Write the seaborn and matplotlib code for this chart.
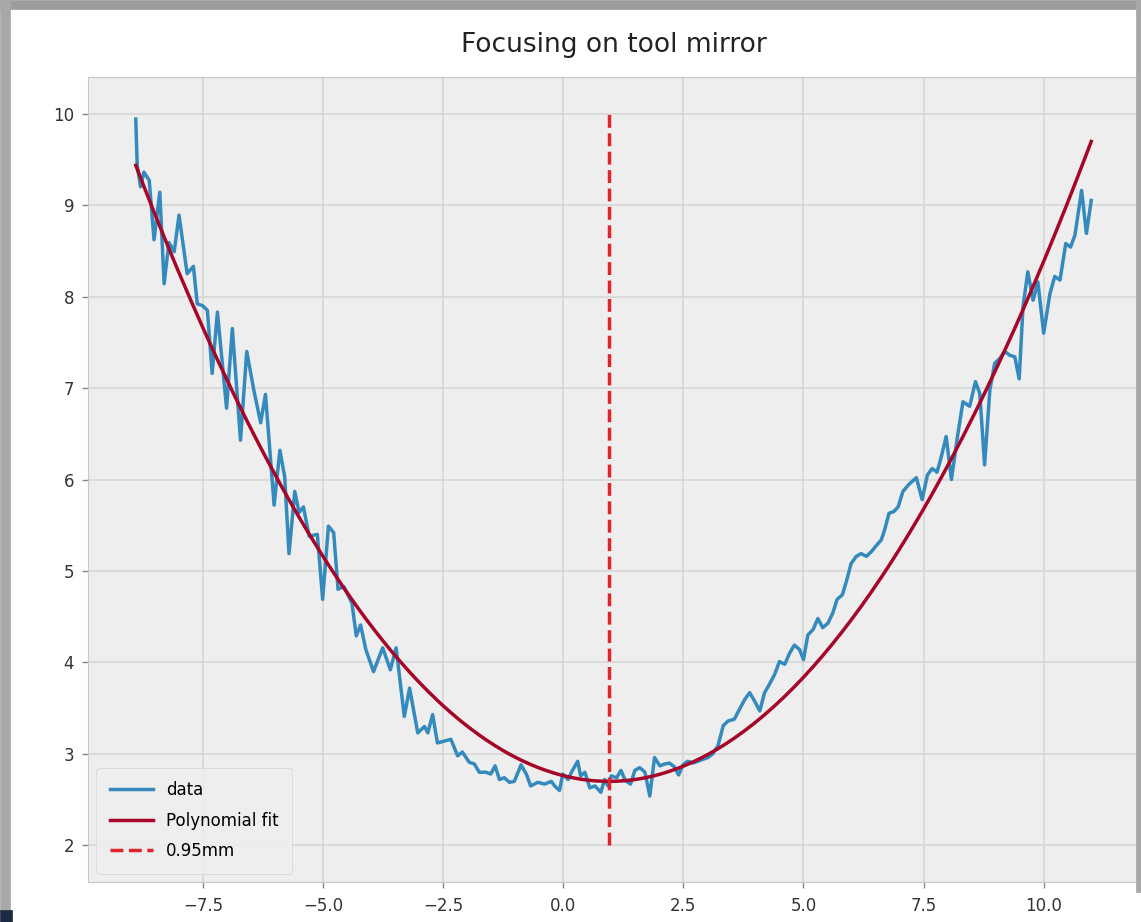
import numpy as np
import matplotlib
matplotlib.use("Agg")
import matplotlib.pyplot as plt
import seaborn as sns
from matplotlib.patches import Rectangle

data_x = [-8.90, -8.87, -8.80, -8.73, -8.62, -8.52, -8.40, -8.31, -8.21, -8.10,
          -8.00, -7.83, -7.70, -7.62, -7.51, -7.41, -7.31, -7.20, -7.01, -6.89,
          -6.72, -6.59, -6.44, -6.30, -6.20, -6.02, -5.90, -5.80, -5.71, -5.59,
          -5.50, -5.41, -5.29, -5.12, -5.01, -4.89, -4.78, -4.69, -4.57, -4.40,
          -4.31, -4.22, -4.11, -3.95, -3.76, -3.60, -3.48, -3.31, -3.20, -3.03,
          -2.89, -2.82, -2.72, -2.62, -2.48, -2.34, -2.20, -2.10, -1.96, -1.85,
          -1.75, -1.61, -1.51, -1.42, -1.33, -1.23, -1.12, -1.02, -0.88, -0.77,
          -0.68, -0.53, -0.39, -0.25, -0.18, -0.08, -0.01, 0.10, 0.17, 0.30,
          0.36, 0.45, 0.55, 0.66, 0.78, 0.86, 0.93, 1.00, 1.11, 1.20,
          1.29, 1.40, 1.49, 1.59, 1.70, 1.80, 1.90, 2.01, 2.11, 2.21,
          2.31, 2.40, 2.49, 2.59, 2.70, 2.80, 2.90, 3.01, 3.11, 3.22,
          3.33, 3.43, 3.56, 3.68, 3.77, 3.88, 3.98, 4.09, 4.19, 4.29,
          4.40, 4.50, 4.61, 4.71, 4.81, 4.92, 5.00, 5.09, 5.20, 5.30,
          5.40, 5.51, 5.61, 5.70, 5.81, 5.89, 5.99, 6.10, 6.20, 6.31,
          6.41, 6.52, 6.62, 6.69, 6.78, 6.88, 6.97, 7.07, 7.20, 7.35,
          7.47, 7.58, 7.68, 7.78, 7.87, 7.97, 8.08, 8.20, 8.32, 8.46,
          8.58, 8.67, 8.77, 8.88, 8.98, 9.08, 9.19, 9.29, 9.40, 9.49,
          9.57, 9.67, 9.78, 9.88, 10.00, 10.13, 10.23, 10.34, 10.46, 10.56,
          10.65, 10.79, 10.89, 10.99]
data_y = [9.94, 9.43, 9.20, 9.36, 9.27, 8.62, 9.14, 8.14, 8.59, 8.49,
          8.89, 8.25, 8.33, 7.92, 7.90, 7.85, 7.16, 7.83, 6.78, 7.65,
          6.43, 7.40, 6.97, 6.62, 6.93, 5.72, 6.32, 6.03, 5.19, 5.87,
          5.64, 5.70, 5.38, 5.40, 4.69, 5.49, 5.42, 4.80, 4.83, 4.65,
          4.29, 4.41, 4.14, 3.90, 4.16, 3.92, 4.16, 3.41, 3.72, 3.23,
          3.30, 3.23, 3.43, 3.12, 3.14, 3.16, 2.98, 3.02, 2.91, 2.89,
          2.80, 2.80, 2.78, 2.87, 2.72, 2.74, 2.69, 2.70, 2.88, 2.78,
          2.65, 2.69, 2.67, 2.70, 2.65, 2.60, 2.78, 2.72, 2.80, 2.92,
          2.76, 2.80, 2.63, 2.65, 2.58, 2.72, 2.65, 2.76, 2.74, 2.82,
          2.71, 2.67, 2.82, 2.85, 2.80, 2.54, 2.96, 2.87, 2.89, 2.90,
          2.86, 2.77, 2.88, 2.92, 2.90, 2.92, 2.94, 2.96, 3.00, 3.09,
          3.31, 3.36, 3.38, 3.50, 3.59, 3.67, 3.58, 3.47, 3.67, 3.76,
          3.87, 4.01, 3.98, 4.10, 4.19, 4.14, 4.03, 4.30, 4.36, 4.48,
          4.38, 4.43, 4.54, 4.69, 4.74, 4.88, 5.08, 5.16, 5.19, 5.16,
          5.21, 5.28, 5.34, 5.45, 5.63, 5.65, 5.70, 5.87, 5.95, 6.02,
          5.78, 6.05, 6.12, 6.08, 6.25, 6.47, 6.00, 6.45, 6.85, 6.80,
          7.07, 6.94, 6.16, 6.98, 7.27, 7.32, 7.40, 7.36, 7.34, 7.10,
          7.89, 8.27, 7.96, 8.16, 7.60, 8.03, 8.22, 8.18, 8.58, 8.54,
          8.67, 9.16, 8.69, 9.05]

# quadratic fit coefficients (vertex at 0.95 mm)
fit_coeffs = [0.0694, -0.1319, 2.7627]
focus_mm = 0.95
focus_span = (2, 10)

plt.style.use("bmh")
fig = plt.figure(figsize=(11.41, 9.22), dpi=100, facecolor="white")
ax = fig.add_axes([88 / 1141, 1 - 882 / 922, (1139 - 88) / 1141, (882 - 77) / 922])

sns.lineplot(x=data_x, y=data_y, ax=ax, color="#348ABD", lw=2.5, label="data")
fit_y = np.polyval(fit_coeffs, data_x)
sns.lineplot(x=data_x, y=fit_y, ax=ax, color="#A60628", lw=2.5, label="Polynomial fit")
ax.vlines(focus_mm, *focus_span, colors="#E0242B", linestyles="--", lw=2.5,
          label=f"{focus_mm}mm")

ax.set_facecolor("#eeeeee")
ax.grid(True, color="#d6d6d6", linestyle="-", linewidth=1.2)
for s in ax.spines.values():
    s.set_color("#c8c8c8")
ax.set_xticks([-7.5, -5.0, -2.5, 0.0, 2.5, 5.0, 7.5, 10.0])
ax.set_yticks(range(2, 11))
ax.tick_params(labelsize=12, labelcolor="#333333", color="#888888",
               direction="out", length=4, width=1)
ax.tick_params(axis="x", pad=7)
ax.tick_params(axis="y", pad=6)
ax.set_title("Focusing on tool mirror", fontsize=19, color="#222222", pad=18)
ax.legend(loc="lower left", fontsize=12, facecolor="#eeeeee", edgecolor="#d0d0d0",
          framealpha=0.9, labelspacing=0.75, handlelength=2.6, borderpad=0.8)

# screenshot frame
fig.add_artist(Rectangle((0, 1 - 9 / 922), 1, 9 / 922, transform=fig.transFigure,
                         color="#9c9c9c", zorder=10))
fig.add_artist(Rectangle((0, 12 / 922), 10 / 1141, 1, transform=fig.transFigure,
                         color="#a8a8a8", zorder=10))
fig.add_artist(Rectangle((1 - 5 / 1141, 30 / 922), 5 / 1141, 1, transform=fig.transFigure,
                         color="#a8a8a8", zorder=10))
fig.add_artist(Rectangle((0, 0), 12 / 1141, 12 / 922, transform=fig.transFigure,
                         color="#1c2a44", zorder=10))

fig.savefig("out.png", dpi=100, facecolor="white")
